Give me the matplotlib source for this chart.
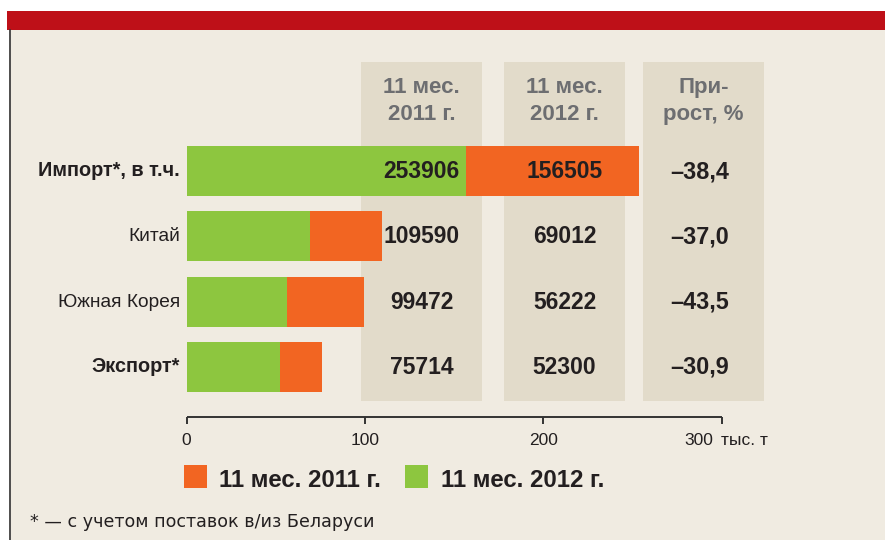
import matplotlib
matplotlib.use("Agg")
import matplotlib.pyplot as plt
from matplotlib.patches import Rectangle

plt.rcParams['font.family'] = ['Liberation Sans', 'DejaVu Sans']

# ---- data ----
categories = ["Импорт*, в т.ч.", "Китай", "Южная Корея", "Экспорт*"]
bold_cat = [True, False, False, True]
values_2011 = [253906, 109590, 99472, 75714]   # tonnes
values_2012 = [156505, 69012, 56222, 52300]
growth = ["–38,4", "–37,0", "–43,5", "–30,9"]
col_headers = [("11 мес.", "2011 г."), ("11 мес.", "2012 г."), ("При-", "рост, %")]
legend_labels = ["11 мес. 2011 г.", "11 мес. 2012 г."]
ticks = [0, 100, 200, 300]
unit = "тыс. т"
footnote = "* — с учетом поставок в/из Беларуси"

# ---- style ----
W, H = 885, 540
C_BG = "#F0EBE1"
C_BOX = "#E2DBCA"
C_RED = "#BE1018"
C_OR = "#F26522"
C_GR = "#8DC63F"
C_TXT = "#231F20"
C_HDR = "#6D6E71"

X0, XS = 186.5, 1.784        # pixel of 0, pixels per thousand tonnes
ROW0, STEP = 171.0, 65.33    # pixel of first row centre, row spacing
BAR_H = 50.0

fig = plt.figure(figsize=(W / 100, H / 100), dpi=100)
fig.patch.set_facecolor("white")

# background / layout axes in pixel coordinates
bg = fig.add_axes([0, 0, 1, 1], zorder=0)
bg.set_xlim(0, W); bg.set_ylim(H, 0); bg.axis("off")
bg.add_patch(Rectangle((9, 30), W - 9, H - 30, color=C_BG, lw=0))
bg.add_patch(Rectangle((7, 11), W - 7, 19, color=C_RED, lw=0))
bg.plot([9.5, 9.5], [30, H], color="#333333", lw=1.2)
box_x = [(361, 482), (504, 625), (643, 764)]
for (a, b) in box_x:
    bg.add_patch(Rectangle((a, 62), b - a, 401 - 62, color=C_BOX, lw=0))

# data axes
ax = fig.add_axes([0, 0, 1, 1], zorder=1)
ax.patch.set_alpha(0)
ax.set_xlim((0 - X0) / XS, (W - X0) / XS)
ax.set_ylim((H - ROW0) / STEP, (0 - ROW0) / STEP)
ax.axis("off")
ypos = list(range(len(categories)))
ax.barh(ypos, [v / 1000 for v in values_2011], height=BAR_H / STEP, left=0,
        color=C_OR, lw=0)
ax.barh(ypos, [v / 1000 for v in values_2012], height=BAR_H / STEP, left=0,
        color=C_GR, lw=0)

def py(p):
    return (p - ROW0) / STEP

ax.plot([ticks[0], ticks[-1]], [py(417), py(417)], color="#333333", lw=1.4,
        solid_capstyle="butt")
for t in ticks:
    ax.plot([t, t], [py(416.5), py(424)], color="#333333", lw=1.4,
            solid_capstyle="butt")
    if t == ticks[-1]:
        ax.text(t - 8 / XS, py(445), str(t), ha="right", va="baseline",
                fontsize=12.5, color=C_TXT)
    else:
        ax.text(t, py(445), str(t), ha="center", va="baseline", fontsize=12.5,
                color=C_TXT)
ax.text(ticks[-1] - 1 / XS, py(445), unit, ha="left", va="baseline",
        fontsize=12.5, color=C_TXT)

# text overlay in pixel coords
tx = fig.add_axes([0, 0, 1, 1], zorder=2)
tx.set_xlim(0, W); tx.set_ylim(H, 0); tx.axis("off")

centers = [(a + b) / 2 for a, b in box_x]
for c, (l1, l2) in zip(centers, col_headers):
    tx.text(c, 93, l1, ha="center", va="baseline", fontsize=16,
            fontweight="bold", color=C_HDR)
    tx.text(c, 120, l2, ha="center", va="baseline", fontsize=16,
            fontweight="bold", color=C_HDR)

for i, cat in enumerate(categories):
    yc = ROW0 + i * STEP
    tx.text(180, yc + 5, cat, ha="right", va="baseline",
            fontsize=14.3 if bold_cat[i] else 13.8,
            fontweight="bold" if bold_cat[i] else "normal", color=C_TXT)
    tx.text(centers[0], yc + 7, f"{values_2011[i]}", ha="center", va="baseline",
            fontsize=16.5, fontweight="bold", color=C_TXT)
    tx.text(centers[1], yc + 7, f"{values_2012[i]}", ha="center", va="baseline",
            fontsize=16.5, fontweight="bold", color=C_TXT)
    tx.text(700, yc + 7, growth[i], ha="center", va="baseline",
            fontsize=16.8, fontweight="bold", color=C_TXT)

# legend
for (sx, tx_x), col, lab in zip([(184, 219), (405, 441)], [C_OR, C_GR], legend_labels):
    tx.add_patch(Rectangle((sx, 465), 23, 23, color=col, lw=0))
    tx.text(tx_x, 487, lab, ha="left", va="baseline", fontsize=17.3,
            fontweight="bold", color=C_TXT)

tx.text(30, 527, footnote, ha="left", va="baseline", fontsize=12.6,
        color=C_TXT, family=["DejaVu Sans"])

fig.savefig("out.png", dpi=100, facecolor=fig.get_facecolor())
